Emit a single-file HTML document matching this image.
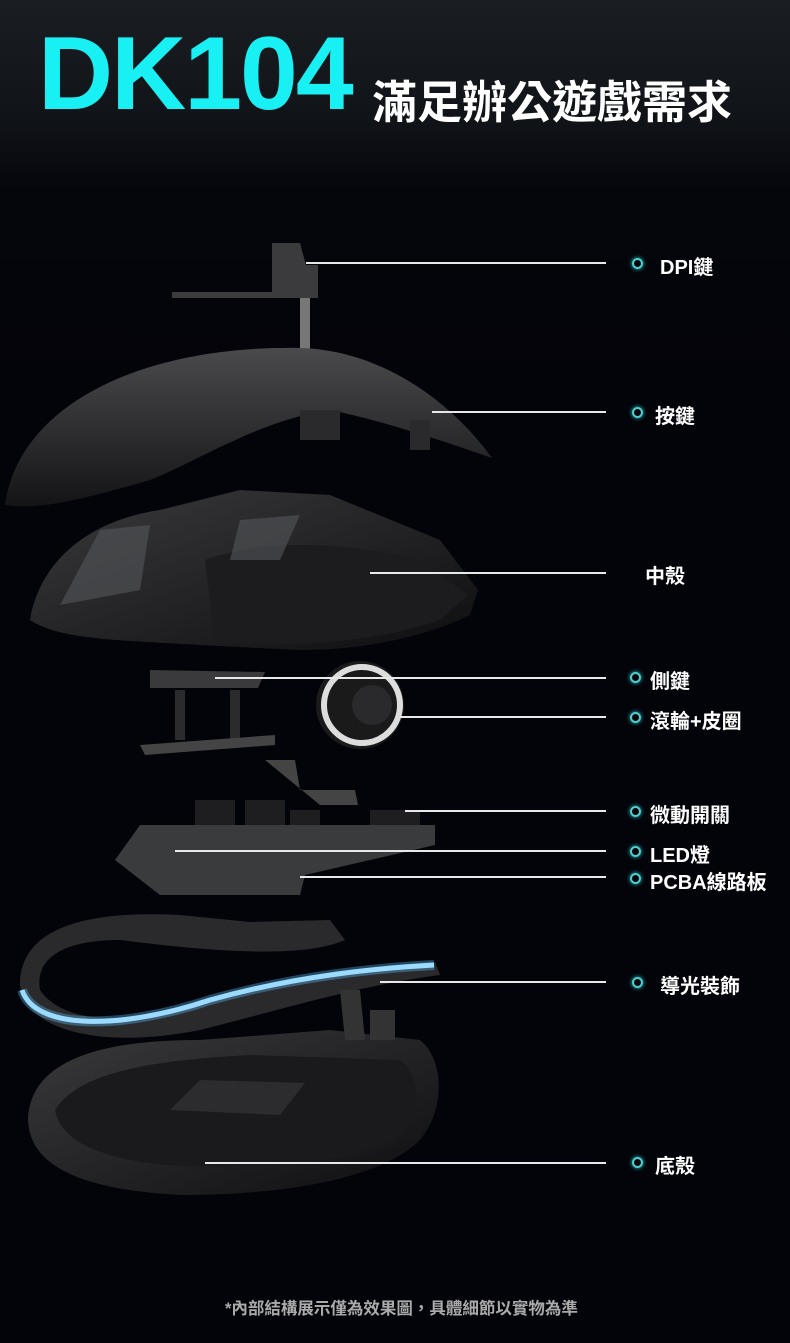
<!DOCTYPE html>
<html><head><meta charset="utf-8"><style>
body{margin:0;background:#03040a;}
#c{position:relative;width:790px;height:1343px;overflow:hidden;background:linear-gradient(180deg,#1a1e23 0px,#101317 120px,#05060b 190px,#03040a 400px);font-family:"Liberation Sans","Noto Sans CJK TC",sans-serif;}
.t{position:absolute;color:#fff;font-weight:bold;font-size:20px;white-space:nowrap;}
.dot{position:absolute;width:7px;height:7px;border:2.5px solid #4fd0d0;border-radius:50%;box-shadow:0 0 4px #3cc;}
.ln{position:absolute;height:1.5px;background:#e8e8e8;}
</style></head><body><div id="c">
<div style="position:absolute;left:38px;top:22px;font-size:104px;font-weight:bold;color:#19f0f3;letter-spacing:-2px;line-height:104px;font-family:'Liberation Sans',sans-serif;">DK104</div>
<div class="t" style="left:372px;top:66px;font-size:45px;letter-spacing:0px;">滿足辦公遊戲需求</div>
<svg width="790" height="1343" style="position:absolute;left:0;top:0">
<defs>
<linearGradient id="g1" x1="0" y1="0" x2="0" y2="1"><stop offset="0" stop-color="#4a4a4c"/><stop offset="1" stop-color="#141416"/></linearGradient>
<linearGradient id="g2" x1="0" y1="0" x2="1" y2="1"><stop offset="0" stop-color="#3a3a3c"/><stop offset="1" stop-color="#0e0e10"/></linearGradient>
</defs>
<path d="M272 243 L300 243 L306 265 L318 265 L318 298 L172 298 L172 292 L272 292 Z" fill="#3b3b3d"/>
<rect x="300" y="298" width="10" height="52" fill="#777"/>
<path d="M5 505 C20 400 150 345 300 348 C380 350 450 400 492 458 C440 440 380 420 330 410 C260 420 200 460 150 480 C80 500 40 510 5 505 Z" fill="url(#g1)"/>
<path d="M300 410 L340 410 L340 440 L300 440 Z M410 420 L430 420 L430 450 L410 450Z" fill="#2a2a2c"/>
<path d="M30 620 C40 560 90 520 160 510 L240 490 L330 495 L440 540 L478 590 L470 615 C440 630 380 650 300 650 L200 645 C120 640 60 640 30 620 Z" fill="url(#g2)"/>
<path d="M205 560 C260 540 340 540 420 560 L468 595 L440 620 C380 640 300 650 215 640 Z" fill="#1c1c1e"/>
<path d="M100 530 L150 525 L140 590 L60 605 Z M240 520 L300 515 L280 560 L230 560 Z" fill="#55575a" opacity=".6"/>
<path d="M150 670 L265 672 L258 688 L150 688 Z" fill="#3a3a3c"/>
<rect x="175" y="690" width="10" height="50" fill="#2b2b2d"/><rect x="230" y="690" width="10" height="50" fill="#2b2b2d"/>
<path d="M140 745 L275 735 L275 745 L145 755 Z" fill="#444"/>
<circle cx="360" cy="705" r="44" fill="#1a1a1a"/>
<circle cx="362" cy="705" r="38" fill="none" stroke="#ddd" stroke-width="6"/>
<circle cx="372" cy="705" r="20" fill="#2a2a2c"/>
<path d="M265 760 L295 760 L300 790 L355 790 L358 805 L320 805 Z" fill="#444"/>
<rect x="195" y="800" width="40" height="32" fill="#1e1e20"/><rect x="245" y="800" width="40" height="32" fill="#1e1e20"/><rect x="290" y="810" width="30" height="30" fill="#1e1e20"/><rect x="370" y="810" width="50" height="34" fill="#1e1e20"/>
<path d="M115 860 L140 825 L435 825 L435 845 L305 875 L300 895 L160 895 Z" fill="#3a3b3d"/>
<path d="M20 985 C20 930 80 910 180 915 L250 922 L330 920 L345 940 C300 960 200 950 120 940 C60 940 35 960 40 990 C60 1020 120 1030 200 1000 C300 975 380 965 435 962 L440 975 C360 985 280 1010 200 1030 C100 1050 25 1030 20 985 Z" fill="#2a2a2c"/>
<path d="M22 990 C35 1030 120 1030 210 1000 C300 975 380 968 434 965" fill="none" stroke="#bfe7ff" stroke-width="5"/>
<path d="M22 990 C35 1030 120 1030 210 1000 C300 975 380 968 434 965" fill="none" stroke="#5bc7ff" stroke-width="10" opacity=".35"/>
<path d="M28 1120 C30 1060 100 1040 200 1040 L330 1030 L420 1040 C445 1060 445 1110 420 1140 C380 1180 280 1195 180 1195 C90 1190 30 1170 28 1120 Z" fill="url(#g2)"/>
<path d="M55 1110 C80 1070 160 1060 250 1055 L400 1060 C425 1080 420 1120 395 1140 C340 1165 250 1170 170 1165 C100 1160 60 1140 55 1110 Z" fill="#1a1a1c"/>
<path d="M170 1110 L200 1080 L305 1083 L280 1115 Z" fill="#2c2c2e"/>
<path d="M340 990 L360 990 L365 1040 L345 1040 Z M370 1010 L395 1010 L395 1040 L370 1040Z" fill="#333"/>
</svg>
<div class="ln" style="left:306px;top:262px;width:300px"></div>
<div class="ln" style="left:432px;top:411px;width:174px"></div>
<div class="ln" style="left:370px;top:572px;width:236px"></div>
<div class="ln" style="left:215px;top:677px;width:391px"></div>
<div class="ln" style="left:400px;top:716px;width:206px"></div>
<div class="ln" style="left:405px;top:810px;width:201px"></div>
<div class="ln" style="left:175px;top:850px;width:431px"></div>
<div class="ln" style="left:300px;top:876px;width:306px"></div>
<div class="ln" style="left:380px;top:981px;width:226px"></div>
<div class="ln" style="left:205px;top:1162px;width:401px"></div>
<div class="dot" style="left:632px;top:258px"></div><div class="t" style="left:660px;top:251px">DPI鍵</div>
<div class="dot" style="left:632px;top:407px"></div><div class="t" style="left:655px;top:400px">按鍵</div>
<div class="t" style="left:645px;top:560px">中殼</div>
<div class="dot" style="left:630px;top:672px"></div><div class="t" style="left:650px;top:665px">側鍵</div>
<div class="dot" style="left:630px;top:712px"></div><div class="t" style="left:650px;top:705px">滾輪+皮圈</div>
<div class="dot" style="left:630px;top:806px"></div><div class="t" style="left:650px;top:799px">微動開關</div>
<div class="dot" style="left:630px;top:846px"></div><div class="t" style="left:650px;top:839px">LED燈</div>
<div class="dot" style="left:630px;top:873px"></div><div class="t" style="left:650px;top:866px">PCBA線路板</div>
<div class="dot" style="left:632px;top:977px"></div><div class="t" style="left:660px;top:970px">導光裝飾</div>
<div class="dot" style="left:632px;top:1157px"></div><div class="t" style="left:655px;top:1150px">底殼</div>
<div class="t" style="left:225px;top:1295px;font-size:16.5px;color:#aaa;">*內部結構展示僅為效果圖，具體細節以實物為準</div>
</div></body></html>
